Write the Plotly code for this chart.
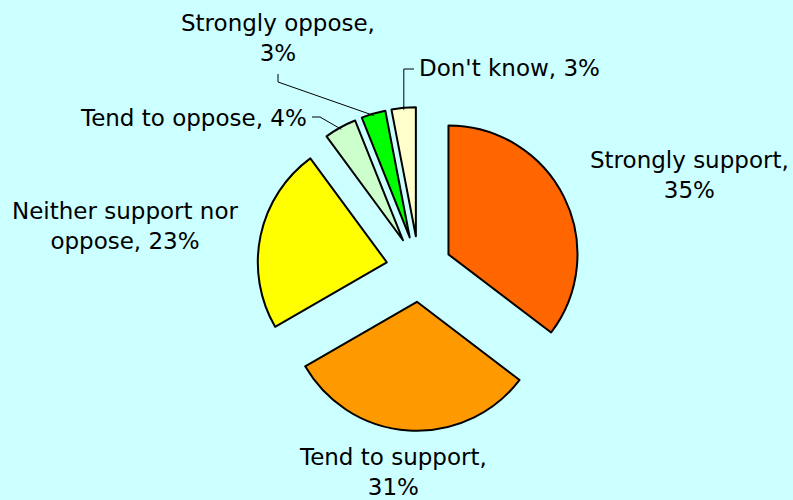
import math
import plotly.graph_objects as go

# ---- data ----
categories = ["Strongly support", "Tend to support", "Neither support nor oppose",
              "Tend to oppose", "Strongly oppose", "Don't know"]
values = [35, 31, 23, 4, 3, 3]
label_texts = ["Strongly support,<br>35%", "Tend to support,<br>31%",
               "Neither support nor<br>oppose, 23%", "Tend to oppose, 4%",
               "Strongly oppose,<br>3%", "Don't know, 3%"]
colors = ["#FF6600", "#FF9900", "#FFFF00", "#CCFFCC", "#00FF00", "#FFFFCC"]

W, H = 793, 500
CX, CY = 419, 269      # pie centre (px)
R = 129                # radius (px)
PULL = 0.255           # fraction of radius
half = R * (1 + PULL)

def px(x):
    return x / W

def py(y):
    return 1 - y / H

fig = go.Figure(go.Pie(
    labels=categories, values=values, sort=False, direction="clockwise",
    rotation=0, pull=[PULL] * len(values), textinfo="none", hoverinfo="label+percent",
    marker=dict(colors=colors, line=dict(color="black", width=2)),
    domain=dict(x=[px(CX - half), px(CX + half)], y=[py(CY + half), py(CY - half)]),
    showlegend=False,
))

# slice outer-edge anchor points computed from the data
total = sum(values)
anchors = []
cum = 0
for v in values:
    mid = (cum + v / 2) / total * 2 * math.pi
    cum += v
    d = R * (1 + PULL) - 2
    anchors.append((CX + d * math.sin(mid), CY - d * math.cos(mid)))

font = dict(family="DejaVu Sans", size=23, color="black")
# label layout: (x, y, xanchor)
label_pos = [(689, 175, "center"), (393, 472, "center"), (125, 226, "center"),
             (309, 118, "right"), (278, 38, "center"), (417, 68, "left")]
for txt, (x, y, xa) in zip(label_texts, label_pos):
    fig.add_annotation(x=px(x), y=py(y), xref="paper", yref="paper", text=txt,
                       showarrow=False, xanchor=xa, yanchor="middle", font=font,
                       align="center")

def leader(points):
    path = "M " + " L ".join(f"{px(x)},{py(y)}" for x, y in points)
    fig.add_shape(type="path", path=path, xref="paper", yref="paper",
                  line=dict(color="black", width=1))

ax, ay = anchors[3]
leader([(312, 117), (320, 117), (ax, ay)])
ax, ay = anchors[4]
leader([(278, 74), (278, 82), (ax, ay)])
ax, ay = anchors[5]
leader([(414, 69), (ax, 69), (ax, ay)])

fig.update_layout(width=W, height=H, margin=dict(l=0, r=0, t=0, b=0),
                  paper_bgcolor="#CCFFFF", plot_bgcolor="#CCFFFF")
fig.write_html("out.html")
